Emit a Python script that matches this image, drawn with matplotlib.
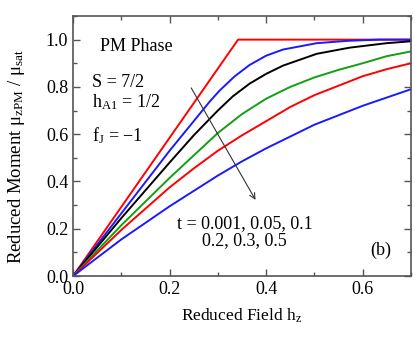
import numpy as np
import matplotlib.pyplot as plt

plt.rcParams['font.family'] = ['Liberation Serif', 'DejaVu Serif']
plt.rcParams['mathtext.fontset'] = 'custom'
plt.rcParams['mathtext.rm'] = 'Liberation Serif'
plt.rcParams['mathtext.it'] = 'Liberation Serif'

# reduced moment vs reduced field for several t values
h_001 = [0, 0.342, 0.7]
m_001 = [0, 1.0, 1.0]

h_005 = [0, 0.1, 0.2, 0.25, 0.284, 0.304, 0.335, 0.366, 0.40, 0.435, 0.505, 0.57, 0.635, 0.7]
m_005 = [0, 0.265, 0.53, 0.655, 0.74, 0.785, 0.845, 0.893, 0.932, 0.958, 0.985, 0.995, 1.0, 1.0]

h_01 = [0, 0.1, 0.2, 0.25, 0.3, 0.331, 0.366, 0.40, 0.435, 0.505, 0.573, 0.65, 0.7]
m_01 = [0, 0.245, 0.48, 0.595, 0.70, 0.76, 0.814, 0.855, 0.89, 0.94, 0.966, 0.985, 0.993]

h_grid = [0, 0.1, 0.2, 0.25, 0.3, 0.35, 0.4, 0.45, 0.5, 0.55, 0.6, 0.65, 0.7]
m_02 = [0, 0.215, 0.415, 0.51, 0.605, 0.685, 0.75, 0.80, 0.84, 0.872, 0.90, 0.93, 0.95]
m_03 = [0, 0.195, 0.375, 0.455, 0.53, 0.595, 0.655, 0.715, 0.765, 0.805, 0.845, 0.875, 0.90]
m_05 = [0, 0.155, 0.295, 0.36, 0.425, 0.485, 0.54, 0.59, 0.64, 0.68, 0.72, 0.755, 0.79]

fig = plt.figure(figsize=(4.15, 3.4), dpi=100)
ax = fig.add_axes([0.176, 0.188, 0.814, 0.765])

lw = 1.4
ax.plot(h_001, m_001, color='#ff0000', lw=lw)
ax.plot(h_005, m_005, color='#1a1aff', lw=lw)
ax.plot(h_01, m_01, color='black', lw=lw)
ax.plot(h_grid, m_02, color='#10a010', lw=lw)
ax.plot(h_grid, m_03, color='#ff0000', lw=lw)
ax.plot(h_grid, m_05, color='#1a1aff', lw=lw)

ax.set_xlim(0, 0.7)
ax.set_ylim(0, 1.1)
ax.set_xticks([0, 0.2, 0.4, 0.6])
ax.set_xticks(np.arange(0, 0.71, 0.1), minor=True)
ax.set_yticks([0, 0.2, 0.4, 0.6, 0.8, 1.0])
ax.set_yticks(np.arange(0, 1.11, 0.1), minor=True)
ax.xaxis.set_major_formatter(plt.FormatStrFormatter('%.1f'))
ax.yaxis.set_major_formatter(plt.FormatStrFormatter('%.1f'))
ax.tick_params(which='both', direction='in', top=True, right=True, labelsize=13,
               color='#555555', width=1.0)
ax.tick_params(which='major', length=5)
ax.tick_params(which='minor', length=3)
for s in ax.spines.values():
    s.set_color('#555555')
    s.set_linewidth(1.2)

ax.set_xlabel('Reduced Field h$_\\mathregular{z}$', fontsize=12.5, labelpad=6)
ax.set_ylabel('Reduced Moment \u03bc$_\\mathregular{zPM}$ / \u03bc$_\\mathregular{sat}$',
              fontsize=13.5)
ax.yaxis.set_label_coords(-0.135, 0.46)

fs = 13
ax.text(0.056, 0.97, 'PM Phase', fontsize=fs, va='center')
ax.text(0.039, 0.82, 'S = 7/2', fontsize=fs, va='center')
ax.text(0.039, 0.735, 'h$_\\mathregular{A1}$ = 1/2', fontsize=fs, va='center')
ax.text(0.039, 0.595, 'f$_\\mathregular{J}$ = \u22121', fontsize=fs, va='center')
ax.text(0.356, 0.186, 't = 0.001, 0.05, 0.1\n0.2, 0.3, 0.5', fontsize=fs,
        ha='center', va='center', linespacing=1.05)
ax.text(0.615, 0.11, '(b)', fontsize=fs, va='center')

ax.annotate('', xy=(0.381, 0.312), xytext=(0.242, 0.806),
            arrowprops=dict(arrowstyle='->', color='#333333', lw=0.8))

fig.savefig('out.png', dpi=100)
